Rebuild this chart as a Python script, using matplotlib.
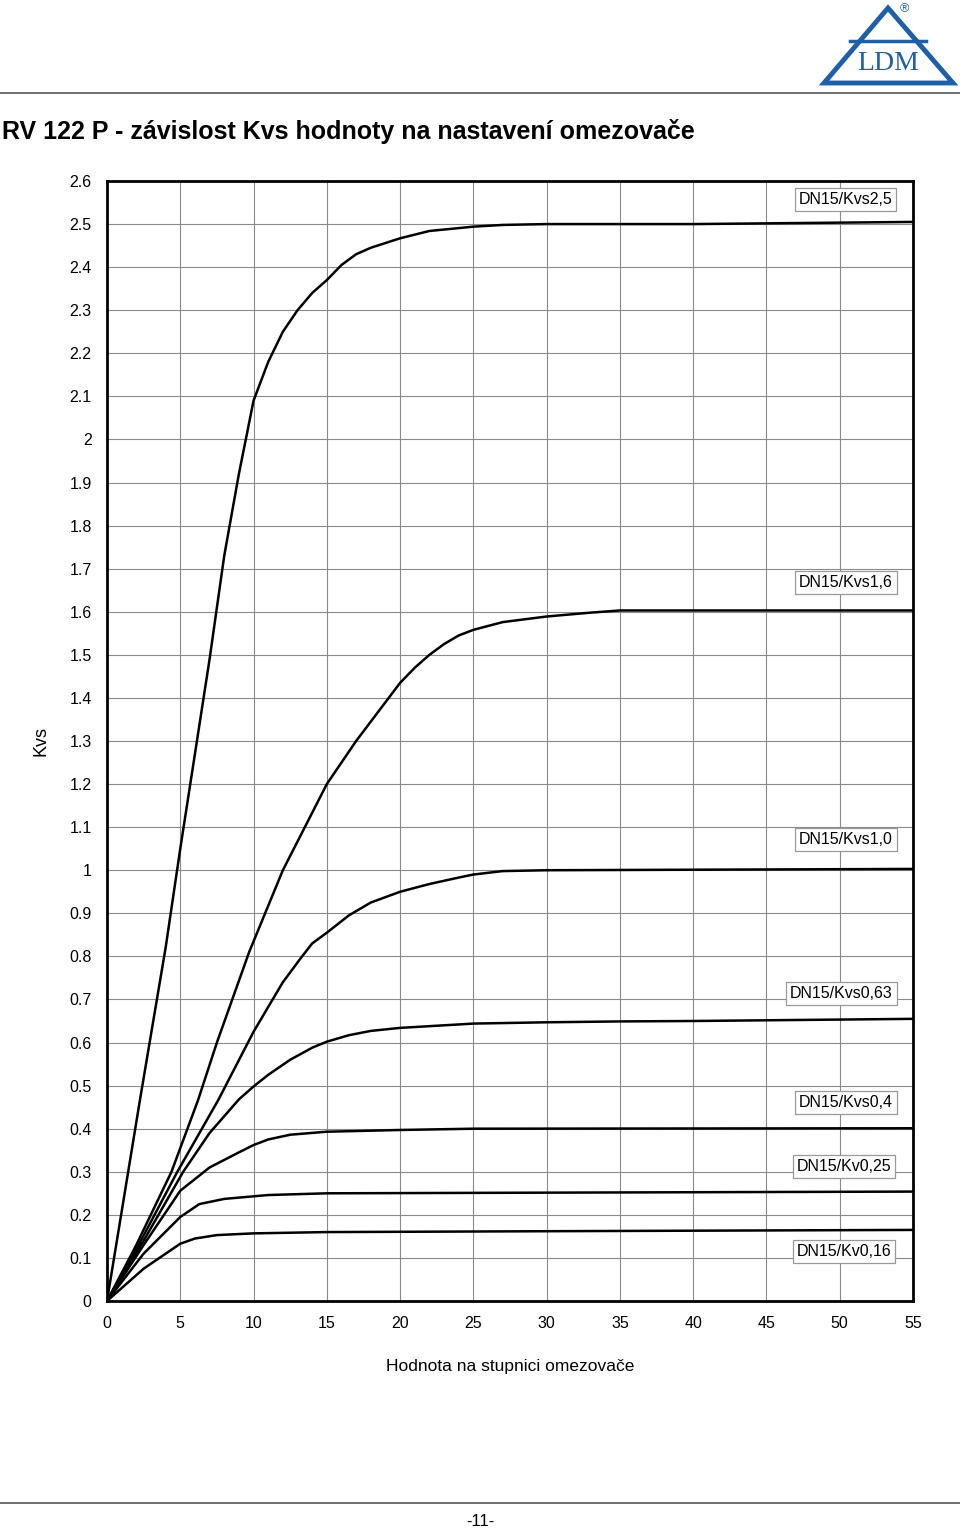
import numpy as np
import matplotlib
matplotlib.use("Agg")
import matplotlib.pyplot as plt
from matplotlib.patches import Polygon
from matplotlib.lines import Line2D

plt.rcParams['font.family'] = ['Liberation Sans', 'DejaVu Sans']

# odectene body krivek (x = hodnota na stupnici, y = Kvs)
x_25 = [0, 2.25, 4, 5, 6, 7, 8, 9, 10, 11, 12, 13, 14, 15, 16, 17, 18, 20, 22, 25, 27, 30, 40, 55]
y_25 = [0, 0.467, 0.82, 1.05, 1.27, 1.49, 1.73, 1.92, 2.09, 2.18, 2.25, 2.30, 2.34, 2.37, 2.405,
        2.43, 2.445, 2.467, 2.484, 2.494, 2.498, 2.5, 2.5, 2.505]

x_16 = [0, 2, 4.4, 6.2, 7.5, 9.7, 12, 13.5, 15, 17, 19, 20, 21, 22, 23, 24, 25, 27, 30, 33, 35, 55]
y_16 = [0, 0.13, 0.3, 0.465, 0.6, 0.81, 1.0, 1.1, 1.2, 1.3, 1.39, 1.435, 1.47, 1.5, 1.525,
        1.545, 1.558, 1.576, 1.589, 1.598, 1.603, 1.603]

x_10 = [0, 2, 4.8, 7.6, 10, 12, 13.2, 14, 15, 16.5, 18, 20, 22, 24, 25, 27, 30, 55]
y_10 = [0, 0.12, 0.3, 0.467, 0.625, 0.74, 0.795, 0.83, 0.855, 0.895, 0.925, 0.95, 0.968,
        0.983, 0.99, 0.998, 1.0, 1.003]

x_063 = [0, 2.5, 5.2, 7, 9, 10, 11, 12.5, 14, 15, 16.5, 18, 20, 22, 25, 30, 35, 40, 55]
y_063 = [0, 0.14, 0.3, 0.39, 0.468, 0.498, 0.525, 0.56, 0.588, 0.602, 0.617, 0.627, 0.634,
         0.638, 0.644, 0.647, 0.649, 0.65, 0.655]

x_04 = [0, 2.5, 5, 7, 9, 10, 11, 12.5, 15, 20, 25, 55]
y_04 = [0, 0.13, 0.256, 0.31, 0.345, 0.362, 0.375, 0.386, 0.393, 0.397, 0.4, 0.401]

x_025 = [0, 2.5, 5, 6.3, 8, 10, 11, 15, 25, 55]
y_025 = [0, 0.11, 0.195, 0.225, 0.237, 0.243, 0.246, 0.25, 0.251, 0.254]

x_016 = [0, 2.5, 5, 6, 7.5, 10, 15, 30, 55]
y_016 = [0, 0.075, 0.133, 0.145, 0.153, 0.157, 0.16, 0.162, 0.165]

labels = ['DN15/Kvs2,5', 'DN15/Kvs1,6', 'DN15/Kvs1,0', 'DN15/Kvs0,63',
          'DN15/Kvs0,4', 'DN15/Kv0,25', 'DN15/Kv0,16']
label_x = [50.4, 50.4, 50.4, 50.1, 50.4, 50.3, 50.3]
label_y = [2.556, 1.669, 1.072, 0.713, 0.46, 0.313, 0.116]

xs = [x_25, x_16, x_10, x_063, x_04, x_025, x_016]
ys = [y_25, y_16, y_10, y_063, y_04, y_025, y_016]

fig = plt.figure(figsize=(9.6, 15.29), dpi=100)
ax = fig.add_axes([107/960, 1 - 1301/1529, 806/960, 1120/1529])

for x, y in zip(xs, ys):
    ax.plot(x, y, color='black', linewidth=1.8, zorder=3, solid_joinstyle='round')

for t, lx, ly in zip(labels, label_x, label_y):
    ax.text(lx, ly, t, fontsize=11.5, ha='center', va='center', zorder=4,
            bbox=dict(boxstyle='square,pad=0.25', facecolor='white', edgecolor='#999999', linewidth=0.9))

ax.set_xlim(0, 55)
ax.set_ylim(0, 2.6)
ax.set_xticks(np.arange(0, 56, 5))
ax.set_yticks(np.round(np.arange(0, 2.61, 0.1), 1))
ax.set_yticklabels(['%g' % v for v in np.round(np.arange(0, 2.61, 0.1), 1)])
ax.tick_params(length=0, labelsize=11.5, pad=11)
ax.tick_params(axis='x', pad=11)
ax.grid(True, color='#8a8a8a', linewidth=0.8)
ax.set_axisbelow(True)
for s in ax.spines.values():
    s.set_linewidth(2)
    s.set_color('black')

ax.set_xlabel('Hodnota na stupnici omezovače', fontsize=12.5, labelpad=20)
ax.set_ylabel('Kvs', fontsize=13, labelpad=14)

# hlavicka a paticka stranky
fig.text(2/960, 1 - 132/1529, 'RV 122 P - závislost Kvs hodnoty na nastavení omezovače',
         fontsize=18, fontweight='bold', ha='left', va='center')
fig.add_artist(Line2D([0, 1], [1 - 93/1529] * 2, color='#555555', linewidth=1.2))
fig.add_artist(Line2D([0, 1], [1 - 1503/1529] * 2, color='#555555', linewidth=1.2))
fig.text(0.5, 1 - 1521/1529, '-11-', fontsize=12, ha='center', va='center')

# logo LDM
blue = '#1f5fa8'
tri = [(824/960, 1 - 83/1529), (953/960, 1 - 83/1529), (888/960, 1 - 8/1529)]
fig.add_artist(Polygon(tri, closed=True, fill=False, edgecolor=blue, linewidth=3.5,
                       transform=fig.transFigure, joinstyle='miter'))
fig.add_artist(Line2D([850/960, 926/960], [1 - 41/1529] * 2, color=blue, linewidth=2.5))
fig.text(888/960, 1 - 64/1529, 'LDM', fontsize=20, color=blue, ha='center', va='center',
         family='Liberation Serif')
fig.text(904/960, 1 - 9/1529, '®', fontsize=9, color=blue, ha='center', va='center')

plt.savefig('out.png', dpi=100)
